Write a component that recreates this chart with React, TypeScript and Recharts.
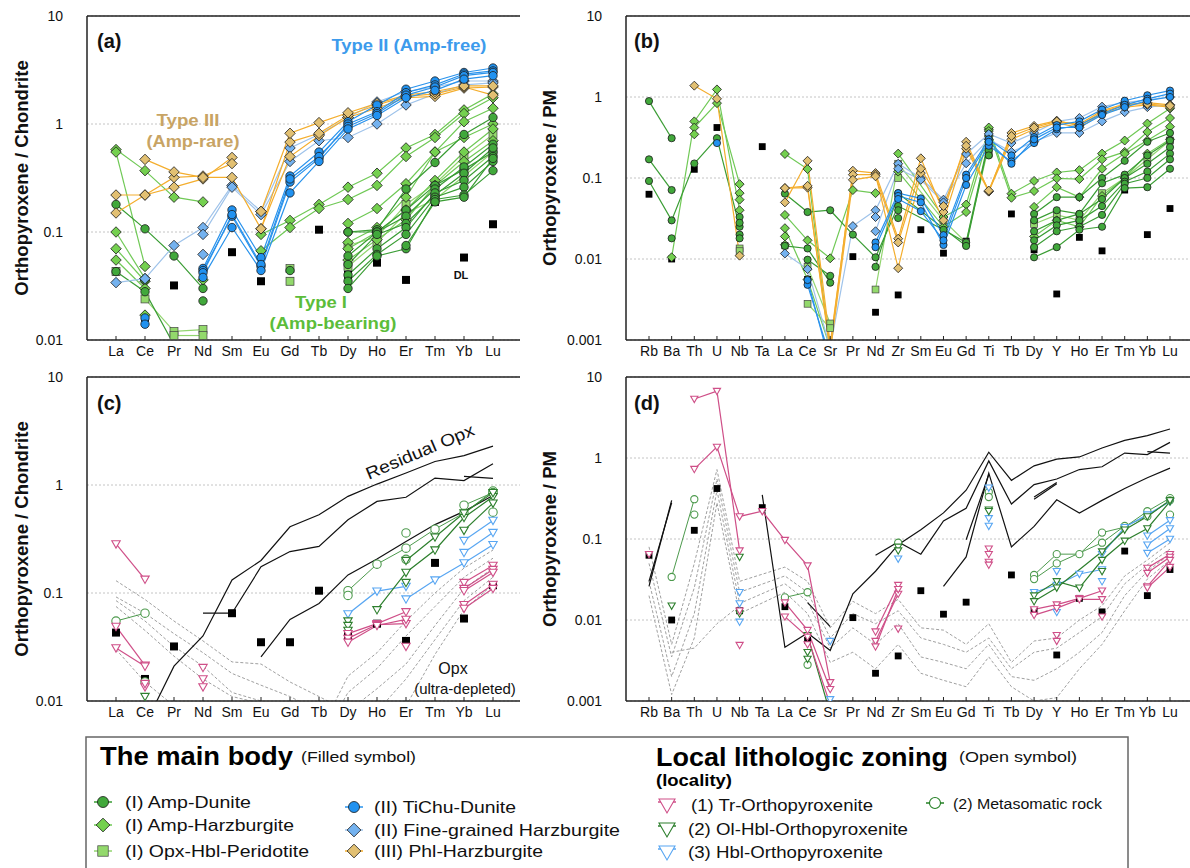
import React from 'react';
import { LineChart, Line, XAxis, YAxis, CartesianGrid, ReferenceLine } from 'recharts';

type Pts = Record<string, number>;
type Shape = 'circle' | 'diamond' | 'square' | 'tri' | 'ring' | 'dl' | 'none';

interface Style {
  shape: Shape;
  fill: string;
  line: string;
  width?: number;
  dash?: string;
}

interface Group extends Style {
  rows: Pts[];
}

const FONT = 'Liberation Sans, Arial, Helvetica, sans-serif';

// categories
const reeCats = ['La', 'Ce', 'Pr', 'Nd', 'Sm', 'Eu', 'Gd', 'Tb', 'Dy', 'Ho', 'Er', 'Tm', 'Yb', 'Lu'];
const pmCats = ['Rb', 'Ba', 'Th', 'U', 'Nb', 'Ta', 'La', 'Ce', 'Sr', 'Pr', 'Nd', 'Zr', 'Sm', 'Eu', 'Gd', 'Ti', 'Tb', 'Dy', 'Y', 'Ho', 'Er', 'Tm', 'Yb', 'Lu'];
const chondriteTicks = [0.01, 0.1, 1, 10];
const pmTicks = [0.001, 0.01, 0.1, 1, 10];

// detection limits
const dlChondrite: Pts = { La: 0.043, Ce: 0.016, Pr: 0.032, Sm: 0.065, Eu: 0.035, Gd: 0.035, Tb: 0.105, Dy: 0.04, Ho: 0.052, Er: 0.036, Tm: 0.19, Yb: 0.058, Lu: 0.118 };
const dlPM: Pts = { Rb: 0.063, Ba: 0.01, Th: 0.128, U: 0.42, Nb: 0.013, Ta: 0.244, La: 0.0146, Ce: 0.0056, Pr: 0.0107, Nd: 0.0022, Zr: 0.0036, Sm: 0.023, Eu: 0.0118, Gd: 0.0166, Tb: 0.036, Dy: 0.013, Y: 0.0037, Ho: 0.0185, Er: 0.0126, Tm: 0.071, Yb: 0.02, Lu: 0.042 };

// ---- panel (a): main body, chondrite-normalised
const aAmpDunite: Pts[] = [
  { La: 0.18, Ce: 0.107, Pr: 0.06, Nd: 0.03 },
  { La: 0.043, Ce: 0.028, Pr: 0.009 },
  { Ce: 0.036 }, { Nd: 0.023 }, { Gd: 0.044 },
  { Dy: 0.1, Ho: 0.105, Er: 0.25, Tm: 0.44, Yb: 0.8, Lu: 1.15 },
  { Dy: 0.1, Ho: 0.1, Er: 0.16, Tm: 0.27, Yb: 0.38, Lu: 0.55 },
  { Dy: 0.06, Ho: 0.1, Er: 0.14, Tm: 0.25, Yb: 0.4, Lu: 0.65 },
  { Dy: 0.05, Ho: 0.095, Er: 0.12, Tm: 0.22, Yb: 0.35, Lu: 0.6 },
  { Dy: 0.04, Ho: 0.07, Er: 0.11, Tm: 0.23, Yb: 0.3, Lu: 0.5 },
  { Dy: 0.035, Ho: 0.062, Er: 0.095, Tm: 0.21, Yb: 0.26, Lu: 0.45 },
  { Dy: 0.03, Ho: 0.06, Er: 0.07, Tm: 0.2, Yb: 0.22, Lu: 0.37 },
  { Er: 0.075, Tm: 0.19, Yb: 0.21, Lu: 0.48 },
];
const aAmpHarz: Pts[] = [
  { La: 0.58, Ce: 0.37, Pr: 0.21, Nd: 0.19 },
  { La: 0.55, Ce: 0.048 },
  { La: 0.1, Ce: 0.037 },
  { La: 0.07, Ce: 0.035 },
  { La: 0.055, Ce: 0.03 },
  { Ce: 0.017 }, { Nd: 0.036 },
  { Eu: 0.095, Gd: 0.128, Tb: 0.18, Dy: 0.26, Ho: 0.35, Er: 0.6, Tm: 0.8, Yb: 1.35, Lu: 1.9 },
  { Eu: 0.067, Gd: 0.11, Tb: 0.165, Dy: 0.2, Ho: 0.27, Er: 0.5, Tm: 0.75, Yb: 1.25, Lu: 1.75 },
  { Dy: 0.12, Ho: 0.165, Er: 0.28, Tm: 0.55, Yb: 1.05, Lu: 1.4 },
  { Dy: 0.08, Ho: 0.11, Er: 0.21, Tm: 0.55, Yb: 0.75, Lu: 1.0 },
  { Dy: 0.07, Ho: 0.1, Er: 0.16, Tm: 0.3, Yb: 0.55, Lu: 0.9 },
  { Dy: 0.055, Ho: 0.085, Er: 0.13, Tm: 0.27, Yb: 0.45, Lu: 0.7 },
];
const aOpxHbl: Pts[] = [
  { La: 0.043 },
  { Ce: 0.024, Pr: 0.012, Nd: 0.0125 },
  { Pr: 0.011, Nd: 0.011 },
  { Gd: 0.046 }, { Gd: 0.035 },
  { Dy: 0.075, Ho: 0.09, Er: 0.18, Tm: 0.28, Yb: 0.5, Lu: 0.8 },
  { Dy: 0.048, Ho: 0.08, Er: 0.15, Tm: 0.2, Yb: 0.33, Lu: 0.55 },
];
const aTiChu: Pts[] = [
  { Ce: 0.016 }, { Ce: 0.014 },
  { Nd: 0.046, Sm: 0.16, Eu: 0.058, Gd: 0.33, Tb: 0.55, Dy: 1.05, Ho: 1.5, Er: 2.1, Tm: 2.5, Yb: 3.0, Lu: 3.3 },
  { Nd: 0.044, Sm: 0.14, Eu: 0.048, Gd: 0.29, Tb: 0.48, Dy: 1.0, Ho: 1.3, Er: 1.95, Tm: 2.3, Yb: 2.9, Lu: 3.1 },
  { Nd: 0.042, Sm: 0.145, Eu: 0.05, Gd: 0.31, Tb: 0.5, Dy: 0.95, Ho: 1.25, Er: 1.85, Tm: 2.2, Yb: 2.8, Lu: 3.0 },
  { Nd: 0.038, Sm: 0.11, Eu: 0.044, Gd: 0.23, Tb: 0.45, Dy: 0.9, Ho: 1.2, Er: 1.75, Tm: 2.05, Yb: 2.6, Lu: 2.8 },
];
const aFine: Pts[] = [
  { La: 0.034, Ce: 0.037, Pr: 0.075, Nd: 0.11, Sm: 0.27, Eu: 0.155, Gd: 0.6, Tb: 0.8, Dy: 1.15, Ho: 1.6, Er: 2.0, Tm: 2.2, Yb: 2.5, Lu: 2.5 },
  { Nd: 0.095, Sm: 0.26, Eu: 0.145, Gd: 0.45, Tb: 0.7, Dy: 0.75, Ho: 1.0, Er: 1.5, Tm: 1.9, Yb: 2.3, Lu: 2.4 },
  { Nd: 0.062 },
];
const aPhl: Pts[] = [
  { La: 0.22, Ce: 0.22, Pr: 0.26, Nd: 0.31, Sm: 0.49 },
  { La: 0.15, Ce: 0.22, Pr: 0.32, Nd: 0.33, Sm: 0.43 },
  { Ce: 0.47, Pr: 0.36, Nd: 0.32, Sm: 0.32, Eu: 0.107, Gd: 0.5, Tb: 0.78, Dy: 1.15, Ho: 1.4, Er: 1.75, Tm: 1.8, Yb: 2.15, Lu: 2.2 },
  { Eu: 0.107, Gd: 0.68, Tb: 0.82, Dy: 1.2, Ho: 1.5, Er: 1.8, Tm: 1.9, Yb: 2.2, Lu: 1.85 },
  { Eu: 0.155, Gd: 0.82, Tb: 1.03, Dy: 1.27, Ho: 1.55, Er: 1.85, Tm: 2.0, Yb: 2.25, Lu: 2.25 },
];

// ---- panel (b): main body, PM-normalised
const bAmpDunite: Pts[] = [
  { Rb: 0.89, Ba: 0.31 },
  { Rb: 0.17, Ba: 0.071 },
  { Rb: 0.092, Ba: 0.03, Th: 0.151, U: 0.31, Nb: 0.025 },
  { Ba: 0.018 },
  { Nb: 0.033 }, { Nb: 0.028 }, { Nb: 0.02 }, { Nb: 0.018 },
  { La: 0.064, Ce: 0.038, Sr: 0.04, Pr: 0.02, Nd: 0.0105, Zr: 0.045, Eu: 0.023, Gd: 0.016, Ti: 0.3 },
  { La: 0.0145, Ce: 0.0135, Sr: 0.0051 },
  { Ce: 0.0098, Sr: 0.0062 },
  { Nd: 0.008, Zr: 0.065, Gd: 0.0145, Ti: 0.28 },
  { Zr: 0.032 }, { Zr: 0.04 },
  { Ti: 0.22 }, { Ti: 0.35 }, { Ti: 0.19 },
  { Dy: 0.036, Y: 0.058, Ho: 0.058, Er: 0.1, Tm: 0.163, Yb: 0.28, Lu: 0.36 },
  { Dy: 0.03, Y: 0.04, Ho: 0.036, Er: 0.086, Tm: 0.11, Yb: 0.19, Lu: 0.29 },
  { Dy: 0.022, Y: 0.03, Ho: 0.036, Er: 0.055, Tm: 0.1, Yb: 0.15, Lu: 0.24 },
  { Dy: 0.017, Y: 0.026, Ho: 0.03, Er: 0.045, Tm: 0.09, Yb: 0.12, Lu: 0.2 },
  { Dy: 0.014, Y: 0.022, Ho: 0.025, Er: 0.035, Tm: 0.085, Yb: 0.1, Lu: 0.17 },
  { Dy: 0.0105, Y: 0.014, Ho: 0.023, Er: 0.025, Tm: 0.075, Yb: 0.077, Lu: 0.13 },
];
const bAmpHarz: Pts[] = [
  { Ba: 0.0105, Th: 0.5, U: 1.24, Nb: 0.04 },
  { Th: 0.42, U: 0.84, Nb: 0.084 },
  { Th: 0.346 }, { Nb: 0.065 }, { Nb: 0.054 },
  { La: 0.198, Ce: 0.129, Sr: 0.0007 },
  { La: 0.035, Ce: 0.017, Sr: 0.0102, Pr: 0.071, Nd: 0.065 },
  { La: 0.024, Ce: 0.0056, Sr: 0.0008 },
  { La: 0.019 }, { La: 0.015 },
  { Zr: 0.2, Eu: 0.033, Gd: 0.047, Ti: 0.4 },
  { Zr: 0.12, Eu: 0.025, Gd: 0.038, Ti: 0.33 },
  { Ti: 0.42, Tb: 0.064, Dy: 0.092, Y: 0.117, Ho: 0.125, Er: 0.2, Tm: 0.29, Yb: 0.47, Lu: 0.72 },
  { Ti: 0.38, Tb: 0.057, Dy: 0.069, Y: 0.099, Ho: 0.097, Er: 0.17, Tm: 0.21, Yb: 0.37, Lu: 0.55 },
  { Dy: 0.044, Y: 0.077, Ho: 0.058, Er: 0.13, Tm: 0.2, Yb: 0.29, Lu: 0.43 },
  { Dy: 0.019, Y: 0.03, Ho: 0.025, Er: 0.06, Tm: 0.1, Yb: 0.2, Lu: 0.3 },
];
const bOpxHbl: Pts[] = [
  { Nb: 0.0135 }, { Nb: 0.0125 },
  { Ce: 0.008, Sr: 0.0016 },
  { Ce: 0.0028, Sr: 0.0014 },
  { Nd: 0.0042, Zr: 0.15, Eu: 0.03, Gd: 0.016, Ti: 0.25 },
  { Zr: 0.1 }, { Ti: 0.2 },
  { Dy: 0.027, Y: 0.035, Ho: 0.03, Er: 0.065, Tm: 0.1, Yb: 0.17, Lu: 0.29 },
];
const bTiChu: Pts[] = [
  { U: 0.27 },
  { Ce: 0.0048, Sr: 0.0006 },
  { Ce: 0.0055, Sr: 0.0005 },
  { Nd: 0.016, Zr: 0.065, Sm: 0.056, Eu: 0.0197, Gd: 0.11, Ti: 0.3, Tb: 0.19, Dy: 0.32, Y: 0.45, Ho: 0.5, Er: 0.7, Tm: 0.9, Yb: 1.05, Lu: 1.2 },
  { Nd: 0.014, Zr: 0.06, Sm: 0.05, Eu: 0.0149, Gd: 0.082, Ti: 0.25, Tb: 0.16, Dy: 0.27, Y: 0.4, Ho: 0.45, Er: 0.62, Tm: 0.8, Yb: 0.95, Lu: 1.1 },
  { Zr: 0.055, Sm: 0.039, Eu: 0.017, Gd: 0.1, Ti: 0.28, Tb: 0.15, Dy: 0.3, Y: 0.42, Ho: 0.42, Er: 0.6, Tm: 0.75, Yb: 0.9, Lu: 1.0 },
];
const bFine: Pts[] = [
  { La: 0.0117, Ce: 0.0075, Sr: 0.0008, Pr: 0.0255, Nd: 0.04, Zr: 0.15, Sm: 0.1, Eu: 0.054, Gd: 0.198, Ti: 0.35, Tb: 0.27, Dy: 0.36, Y: 0.5, Ho: 0.55, Er: 0.76, Tm: 0.85, Yb: 0.92, Lu: 1.0 },
  { Nd: 0.022, Zr: 0.13, Sm: 0.095, Eu: 0.05, Gd: 0.152, Ti: 0.3, Tb: 0.21, Dy: 0.28, Y: 0.36, Ho: 0.36, Er: 0.5, Tm: 0.65, Yb: 0.75, Lu: 0.8 },
  { Nd: 0.033 },
];
const bPhl: Pts[] = [
  { Th: 1.38, U: 0.95, Nb: 0.011 },
  { La: 0.075, Ce: 0.076, Sr: 0.0008, Pr: 0.123, Nd: 0.115, Zr: 0.0178, Sm: 0.175, Eu: 0.038, Gd: 0.28, Ti: 0.068, Tb: 0.36, Dy: 0.44, Y: 0.51, Ho: 0.44, Er: 0.65, Tm: 0.8, Yb: 0.85, Lu: 0.8 },
  { La: 0.05, Ce: 0.163, Sr: 0.0009, Pr: 0.11, Nd: 0.11, Zr: 0.0077, Sm: 0.115, Eu: 0.03, Gd: 0.23, Ti: 0.068, Tb: 0.3, Dy: 0.4, Y: 0.48, Ho: 0.42, Er: 0.62, Tm: 0.75, Yb: 0.8, Lu: 0.75 },
  { La: 0.075, Ce: 0.08, Sr: 0.0007, Pr: 0.095, Nd: 0.105, Zr: 0.016, Sm: 0.13, Eu: 0.045, Gd: 0.25, Ti: 0.07, Tb: 0.33, Dy: 0.42, Y: 0.5, Ho: 0.46, Er: 0.68, Tm: 0.82, Yb: 0.82, Lu: 0.78 },
];

// ---- panel (c): local zoning, chondrite-normalised
const cDepleted: Pts[] = [
  { La: 0.13, Ce: 0.087, Pr: 0.055, Nd: 0.036, Sm: 0.023, Eu: 0.022, Gd: 0.015, Tb: 0.011, Dy: 0.008 },
  { La: 0.092, Ce: 0.065, Pr: 0.042, Nd: 0.028, Sm: 0.018, Eu: 0.014, Gd: 0.011, Tb: 0.008 },
  { La: 0.085, Ce: 0.055, Pr: 0.032, Nd: 0.021, Sm: 0.012, Eu: 0.01, Gd: 0.008 },
  { La: 0.075, Ce: 0.045, Pr: 0.026, Nd: 0.016, Sm: 0.011, Eu: 0.0095, Gd: 0.007 },
  { La: 0.03, Ce: 0.015, Pr: 0.009 },
  { Tb: 0.005, Dy: 0.017, Ho: 0.028, Er: 0.055, Tm: 0.1, Yb: 0.17, Lu: 0.25 },
  { Tb: 0.004, Dy: 0.012, Ho: 0.02, Er: 0.04, Tm: 0.075, Yb: 0.14, Lu: 0.21 },
  { Dy: 0.008, Ho: 0.013, Er: 0.022, Tm: 0.05, Yb: 0.11, Lu: 0.17 },
  { Ho: 0.008, Er: 0.016, Tm: 0.037, Yb: 0.085, Lu: 0.14 },
  { Er: 0.009, Tm: 0.027, Yb: 0.07, Lu: 0.12 },
];
const cResidual: Pts[] = [
  { Ce: 0.006, Pr: 0.021, Nd: 0.04, Sm: 0.132, Eu: 0.2, Gd: 0.41, Tb: 0.53, Dy: 0.785, Ho: 1.02, Er: 1.29, Tm: 1.65, Yb: 1.87, Lu: 2.29 },
  { Nd: 0.065, Sm: 0.065, Eu: 0.175, Gd: 0.242, Tb: 0.27, Dy: 0.476, Ho: 0.705, Er: 0.77, Tm: 1.16, Yb: 1.1, Lu: 1.57 },
  { Yb: 1.2, Lu: 1.15 },
  { Eu: 0.0256, Gd: 0.057, Tb: 0.08, Dy: 0.147, Ho: 0.206, Er: 0.3, Tm: 0.43, Yb: 0.57, Lu: 0.8 },
];
const cTrOpx: Pts[] = [
  { La: 0.285, Ce: 0.134 },
  { La: 0.049, Ce: 0.0214 },
  { La: 0.031, Ce: 0.021 },
  { Ce: 0.0135 }, { Ce: 0.0145 },
  { Nd: 0.0204 }, { Nd: 0.016 }, { Nd: 0.0135 },
  { Dy: 0.042, Ho: 0.052, Er: 0.067 },
  { Dy: 0.038, Ho: 0.051, Er: 0.052 },
  { Dy: 0.035, Ho: 0.05, Er: 0.057 },
  { Er: 0.032 },
  { Yb: 0.125, Lu: 0.18 },
  { Yb: 0.11, Lu: 0.165 },
  { Yb: 0.105, Lu: 0.155 },
  { Yb: 0.078, Lu: 0.12 },
  { Yb: 0.072, Lu: 0.11 },
];
const cOlHbl: Pts[] = [
  { Ce: 0.011 },
  { Dy: 0.055 }, { Dy: 0.05 }, { Dy: 0.045 },
  { Ho: 0.07, Er: 0.155, Tm: 0.25, Yb: 0.5, Lu: 0.78 },
  { Er: 0.2, Tm: 0.33, Yb: 0.55, Lu: 0.85 },
  { Er: 0.125 },
  { Yb: 0.38, Lu: 0.68 },
];
const cMeta: Pts[] = [
  { La: 0.055, Ce: 0.065 },
  { Ce: 0.015 },
  { Dy: 0.105, Ho: 0.185, Er: 0.26, Tm: 0.39, Yb: 0.55, Lu: 0.88 },
  { Dy: 0.095 },
  { Er: 0.36 }, { Er: 0.205 },
  { Yb: 0.65, Lu: 0.85 },
  { Lu: 0.56 },
];
const cHbl: Pts[] = [
  { Dy: 0.064, Ho: 0.104, Er: 0.115 },
  { Er: 0.088, Tm: 0.132, Yb: 0.19, Lu: 0.28 },
  { Yb: 0.237, Lu: 0.363 },
  { Yb: 0.306, Lu: 0.47 },
];

// ---- panel (d): local zoning, PM-normalised
const dDepleted: Pts[] = [
  { Rb: 0.08, Ba: 0.005, Th: 0.05, U: 0.72, Nb: 0.03, La: 0.045, Ce: 0.03, Sr: 0.008, Pr: 0.017, Nd: 0.012, Zr: 0.018, Sm: 0.008, Eu: 0.0075, Gd: 0.005, Ti: 0.009, Tb: 0.003, Dy: 0.0055, Y: 0.006, Ho: 0.01, Er: 0.015, Tm: 0.035, Yb: 0.055, Lu: 0.09 },
  { Rb: 0.05, Ba: 0.0035, Th: 0.025, U: 0.55, Nb: 0.022, La: 0.035, Ce: 0.022, Sr: 0.006, Pr: 0.012, Nd: 0.009, Zr: 0.013, Sm: 0.006, Eu: 0.005, Gd: 0.004, Ti: 0.006, Tb: 0.0025, Dy: 0.004, Y: 0.0045, Ho: 0.007, Er: 0.011, Tm: 0.028, Yb: 0.048, Lu: 0.075 },
  { Rb: 0.03, Ba: 0.002, Th: 0.012, U: 0.4, Nb: 0.016, La: 0.028, Ce: 0.017, Sr: 0.0045, Pr: 0.008, Nd: 0.005, Zr: 0.009, Sm: 0.0035, Eu: 0.003, Gd: 0.0025, Ti: 0.005, Tb: 0.002, Dy: 0.0018, Y: 0.0025, Ho: 0.004, Er: 0.007, Tm: 0.02, Yb: 0.04, Lu: 0.065 },
  { Rb: 0.02, Ba: 0.0012, Th: 0.006, U: 0.28, Nb: 0.012, La: 0.022, Ce: 0.012, Sr: 0.003, Pr: 0.004, Nd: 0.0025, Zr: 0.005, Sm: 0.0022, Eu: 0.0018, Gd: 0.0015, Ti: 0.0035, Tb: 0.0015, Dy: 0.001, Y: 0.0011, Ho: 0.0025, Er: 0.005, Tm: 0.013, Yb: 0.032, Lu: 0.055 },
  { Ba: 0.004, Th: 0.0045, U: 0.009, Nb: 0.015 },
];
const dResidual: Pts[] = [
  { Rb: 0.026, Ba: 0.3 },
  { Rb: 0.03, Ba: 0.28 },
  { Ta: 0.35, La: 0.0046, Ce: 0.0069, Sr: 0.0042, Pr: 0.021, Nd: 0.04, Zr: 0.085, Sm: 0.13, Eu: 0.21, Gd: 0.4, Ti: 1.18, Tb: 0.53, Dy: 0.8, Y: 0.97, Ho: 1.03, Er: 1.33, Tm: 1.65, Yb: 1.89, Lu: 2.28 },
  { Ce: 0.0164, Sr: 0.0083 },
  { Nd: 0.063, Zr: 0.092, Sm: 0.065, Eu: 0.167, Gd: 0.24, Ti: 0.92, Tb: 0.27, Dy: 0.47, Y: 0.55, Ho: 0.72, Er: 0.78, Tm: 1.15, Yb: 1.1, Lu: 1.56 },
  { Yb: 1.2, Lu: 1.15 },
  { Eu: 0.026, Gd: 0.06, Ti: 0.65, Tb: 0.08, Dy: 0.143, Y: 0.305, Ho: 0.209, Er: 0.3, Tm: 0.42, Yb: 0.57, Lu: 0.75 },
  { Gd: 0.098, Ti: 0.62 },
  { Dy: 0.31, Y: 0.48 },
  { Dy: 0.33, Y: 0.5 },
];
const dTrOpx: Pts[] = [
  { Rb: 0.065 },
  { Th: 5.35, U: 6.7, Nb: 0.072 },
  { Th: 0.73, U: 1.37, Nb: 0.19, Ta: 0.22, La: 0.097, Ce: 0.047, Sr: 0.0017 },
  { Nb: 0.013 }, { Nb: 0.0049 },
  { La: 0.0164, Ce: 0.0075, Sr: 0.0014 },
  { La: 0.011, Ce: 0.0062, Sr: 0.0009 },
  { Ce: 0.005 },
  { Nd: 0.0072, Zr: 0.027 },
  { Nd: 0.0055, Zr: 0.021 },
  { Nd: 0.0047, Zr: 0.024 },
  { Zr: 0.0078 },
  { Ti: 0.076 }, { Ti: 0.065 }, { Ti: 0.052 }, { Ti: 0.048 },
  { Dy: 0.0135, Y: 0.0155, Ho: 0.0185, Er: 0.023 },
  { Dy: 0.0115, Y: 0.014, Ho: 0.018, Er: 0.018 },
  { Y: 0.0065 }, { Y: 0.0055 }, { Er: 0.011 },
  { Yb: 0.044, Lu: 0.065 },
  { Yb: 0.038, Lu: 0.06 },
  { Yb: 0.026, Lu: 0.055 },
  { Yb: 0.025, Lu: 0.045 },
];
const dOlHbl: Pts[] = [
  { Ba: 0.015 },
  { Nb: 0.06 }, { Nb: 0.012 },
  { Ce: 0.0065, Sr: 0.0007 },
  { Ce: 0.004 }, { Ce: 0.0033 },
  { Zr: 0.08 }, { Zr: 0.072 },
  { Ti: 0.23 }, { Ti: 0.22 },
  { Dy: 0.02, Y: 0.03, Ho: 0.025, Er: 0.055, Tm: 0.095, Yb: 0.135, Lu: 0.29 },
  { Dy: 0.017, Y: 0.025, Er: 0.07, Tm: 0.13, Yb: 0.19, Lu: 0.3 },
  { Er: 0.04 },
];
const dMeta: Pts[] = [
  { Ba: 0.034, Th: 0.31 },
  { Th: 0.2 },
  { La: 0.019, Ce: 0.022 },
  { Ce: 0.0028 },
  { Zr: 0.09 },
  { Ti: 0.38 }, { Ti: 0.33 },
  { Dy: 0.036, Y: 0.065, Ho: 0.065, Er: 0.12, Tm: 0.14, Yb: 0.22, Lu: 0.32 },
  { Dy: 0.032, Y: 0.05, Er: 0.09, Tm: 0.145, Yb: 0.19, Lu: 0.3 },
  { Lu: 0.2 },
];
const dHbl: Pts[] = [
  { Nb: 0.022 }, { Nb: 0.016 }, { Nb: 0.0095 },
  { Sr: 0.0055 }, { Sr: 0.00105 },
  { Zr: 0.057 },
  { Ti: 0.43 }, { Ti: 0.18 }, { Ti: 0.145 },
  { Dy: 0.022, Y: 0.027, Ho: 0.037, Er: 0.042 },
  { Y: 0.04 }, { Y: 0.0125 }, { Er: 0.03 },
  { Er: 0.065, Tm: 0.14, Yb: 0.2, Lu: 0.29 },
  { Yb: 0.11, Lu: 0.17 },
  { Yb: 0.085, Lu: 0.135 },
  { Yb: 0.067, Lu: 0.1 },
];

// styles
const sAmpDunite: Style = { shape: 'circle', fill: '#41a83b', line: '#3a9d34' };
const sAmpHarz: Style = { shape: 'diamond', fill: '#74d04f', line: '#70c956' };
const sOpxHbl: Style = { shape: 'square', fill: '#93d96c', line: '#92d56f' };
const sTiChu: Style = { shape: 'circle', fill: '#2192f0', line: '#2a93ec' };
const sFine: Style = { shape: 'diamond', fill: '#74b2ef', line: '#9fc3ea' };
const sPhl: Style = { shape: 'diamond', fill: '#e2c072', line: '#f4ae2e' };
const sTr: Style = { shape: 'tri', fill: '#fff', line: '#cf4f88' };
const sOlHbl: Style = { shape: 'tri', fill: '#fff', line: '#2d7f2d' };
const sHbl: Style = { shape: 'tri', fill: '#fff', line: '#58a6f2' };
const sMeta: Style = { shape: 'ring', fill: '#fff', line: '#4d9a4d', width: 1 };
const sDepleted: Style = { shape: 'none', fill: 'none', line: '#a0a0a0', dash: '3 2', width: 1 };
const sResidual: Style = { shape: 'none', fill: 'none', line: '#111', width: 1.2 };
const sDL: Style = { shape: 'dl', fill: '#000', line: 'none' };

const Marker = ({ shape, x, y, r, fill, stroke }: { shape: Shape; x: number; y: number; r: number; fill: string; stroke: string }) => {
  if (shape === 'circle') return <circle cx={x} cy={y} r={r} fill={fill} stroke="#1a1a1a" strokeWidth={0.8} />;
  if (shape === 'diamond') {
    const s = r * 1.25;
    return <polygon points={`${x},${y - s} ${x + s},${y} ${x},${y + s} ${x - s},${y}`} fill={fill} stroke="#1a1a1a" strokeWidth={0.8} />;
  }
  if (shape === 'square') {
    const s = r * 0.95;
    return <rect x={x - s} y={y - s} width={2 * s} height={2 * s} fill={fill} stroke="#444" strokeWidth={0.7} />;
  }
  if (shape === 'tri') {
    const s = r;
    return <polygon points={`${x - s},${y - s * 0.75} ${x + s},${y - s * 0.75} ${x},${y + s}`} fill="#fff" stroke={stroke} strokeWidth={1.1} />;
  }
  if (shape === 'ring') return <circle cx={x} cy={y} r={r} fill="#fff" stroke={stroke} strokeWidth={1.1} />;
  if (shape === 'dl') return <rect x={x - r} y={y - r} width={2 * r} height={2 * r} fill="#000" />;
  return null;
};

const makeDot = (g: Style, r: number, id: string) => (props: any) => {
  const { cx, cy, index, value } = props;
  const key = `${id}-${index}`;
  if (cx == null || cy == null || value == null || Number.isNaN(cy)) return <g key={key} />;
  return (
    <g key={key}>
      <Marker shape={g.shape} x={cx} y={cy} r={g.shape === 'dl' ? r * 0.95 : r} fill={g.fill} stroke={g.line} />
    </g>
  );
};

interface PanelProps {
  left: number;
  top: number;
  width: number;
  right: number;
  cats: string[];
  groups: Group[];
  domain: [number, number];
  ticks: number[];
  padL: number;
  padR: number;
  r: number;
}

const Panel = ({ left, top, width, right, cats, groups, domain, ticks, padL, padR, r }: PanelProps) => {
  const data = cats.map((c) => {
    const row: Record<string, string | number> = { cat: c };
    groups.forEach((g, gi) =>
      g.rows.forEach((p, si) => {
        if (p[c] != null) row[`s${gi}_${si}`] = p[c];
      }),
    );
    return row;
  });
  return (
    <div style={{ position: 'absolute', left, top }}>
      <LineChart width={width} height={370} data={data} margin={{ top: 16, right, bottom: 0, left: 0 }}>
        <CartesianGrid vertical={false} stroke="#c4c4c4" strokeDasharray="2 2" />
        <XAxis
          dataKey="cat"
          interval={0}
          padding={{ left: padL, right: padR }}
          height={30}
          axisLine={{ stroke: '#222', strokeWidth: 1.5 }}
          tickLine={{ stroke: '#222' }}
          tickSize={-4}
          tickMargin={10}
          tick={{ fontSize: 14, fill: '#111', fontFamily: FONT }}
        />
        <YAxis
          type="number"
          scale="log"
          domain={domain}
          ticks={ticks}
          allowDataOverflow
          width={86 + (left === 0 ? 1 : 0)}
          axisLine={{ stroke: '#222', strokeWidth: 1.5 }}
          tickLine={false}
          tickMargin={18}
          tickFormatter={(v: number) => String(v)}
          tick={{ fontSize: 14, fill: '#111', fontFamily: FONT }}
        />
        <ReferenceLine y={domain[1]} stroke="#222" strokeWidth={1.5} />
        {groups.flatMap((g, gi) =>
          g.rows.map((_, si) => {
            const k = `s${gi}_${si}`;
            return (
              <Line
                key={k}
                dataKey={k}
                type="linear"
                stroke={g.shape === 'dl' ? 'none' : g.line}
                strokeWidth={g.width ?? 1.2}
                strokeDasharray={g.dash}
                dot={g.shape === 'none' ? false : makeDot(g, r, k)}
                activeDot={false}
                connectNulls
                isAnimationActive={false}
              />
            );
          }),
        )}
      </LineChart>
    </div>
  );
};

const groupsA: Group[] = [
  { rows: [dlChondrite], ...sDL },
  { rows: aOpxHbl, ...sOpxHbl },
  { rows: aAmpHarz, ...sAmpHarz },
  { rows: aAmpDunite, ...sAmpDunite },
  { rows: aFine, ...sFine },
  { rows: aPhl, ...sPhl },
  { rows: aTiChu, ...sTiChu },
];
const groupsB: Group[] = [
  { rows: [dlPM], ...sDL },
  { rows: bOpxHbl, ...sOpxHbl },
  { rows: bAmpHarz, ...sAmpHarz },
  { rows: bAmpDunite, ...sAmpDunite },
  { rows: bFine, ...sFine },
  { rows: bPhl, ...sPhl },
  { rows: bTiChu, ...sTiChu },
];
const groupsC: Group[] = [
  { rows: cDepleted, ...sDepleted },
  { rows: cResidual, ...sResidual },
  { rows: [dlChondrite], ...sDL },
  { rows: cMeta, ...sMeta },
  { rows: cHbl, ...sHbl },
  { rows: cOlHbl, ...sOlHbl },
  { rows: cTrOpx, ...sTr },
];
const groupsD: Group[] = [
  { rows: dDepleted, ...sDepleted },
  { rows: dResidual, ...sResidual },
  { rows: [dlPM], ...sDL },
  { rows: dMeta, ...sMeta },
  { rows: dHbl, ...sHbl },
  { rows: dOlHbl, ...sOlHbl },
  { rows: dTrOpx, ...sTr },
];

const legendItems = [
  { mx: 103, tx: 125, y: 802, label: '(I) Amp-Dunite', w: 126, st: sAmpDunite },
  { mx: 103, tx: 125, y: 825, label: '(I) Amp-Harzburgite', w: 169, st: sAmpHarz },
  { mx: 103, tx: 125, y: 851, label: '(I) Opx-Hbl-Peridotite', w: 184, st: sOpxHbl },
  { mx: 354, tx: 374, y: 807, label: '(II) TiChu-Dunite', w: 142, st: sTiChu },
  { mx: 354, tx: 374, y: 830, label: '(II) Fine-grained Harzburgite', w: 246, st: sFine },
  { mx: 354, tx: 374, y: 851, label: '(III) Phl-Harzburgite', w: 169, st: sPhl },
  { mx: 667, tx: 691, y: 805, label: '(1) Tr-Orthopyroxenite', w: 182, st: sTr },
  { mx: 667, tx: 688, y: 829, label: '(2) Ol-Hbl-Orthopyroxenite', w: 220, st: sOlHbl },
  { mx: 667, tx: 688, y: 852, label: '(3) Hbl-Orthopyroxenite', w: 195, st: sHbl },
  { mx: 935, tx: 953, y: 803, label: '(2) Metasomatic rock', w: 149, st: { ...sMeta, line: '#237f23' }, fs: 14 },
];

const axisTitles = [
  { x: 21, y: 178, t: 'Orthopyroxene / Chondrite' },
  { x: 549, y: 178, t: 'Orthopyroxene / PM' },
  { x: 21, y: 539, t: 'Orthopyroxene / Chondrite' },
  { x: 549, y: 539, t: 'Orthopyroxene / PM' },
];

const panelTags = [
  { x: 97, y: 48, t: '(a)' },
  { x: 634, y: 48, t: '(b)' },
  { x: 97, y: 410, t: '(c)' },
  { x: 634, y: 410, t: '(d)' },
];

const App = () => (
  <div style={{ position: 'absolute', left: 0, top: 0, width: 1190, height: 868, background: '#fff', fontFamily: FONT, overflow: 'hidden' }}>
    <Panel left={0} top={0} width={525} right={5} cats={reeCats} groups={groupsA} domain={[0.01, 10]} ticks={chondriteTicks} padL={29} padR={27} r={4.2} />
    <Panel left={540} top={0} width={650} right={0} cats={pmCats} groups={groupsB} domain={[0.001, 10]} ticks={pmTicks} padL={23} padR={20} r={3.6} />
    <Panel left={0} top={361} width={525} right={5} cats={reeCats} groups={groupsC} domain={[0.01, 10]} ticks={chondriteTicks} padL={29} padR={27} r={4.2} />
    <Panel left={540} top={361} width={650} right={0} cats={pmCats} groups={groupsD} domain={[0.001, 10]} ticks={pmTicks} padL={23} padR={20} r={3.6} />

    <svg width={1190} height={868} style={{ position: 'absolute', left: 0, top: 0, pointerEvents: 'none' }} fontFamily={FONT}>
      {axisTitles.map((a, i) => (
        <text key={i} transform={`translate(${a.x},${a.y}) rotate(-90)`} textAnchor="middle" dominantBaseline="central" fontSize={18.5} fontWeight="bold" fill="#111">
          {a.t}
        </text>
      ))}
      {panelTags.map((p) => (
        <text key={p.t} x={p.x} y={p.y} fontSize={20} fontWeight="bold" fill="#111">
          {p.t}
        </text>
      ))}

      <text x={409} y={51} textAnchor="middle" fontSize={17} fontWeight="bold" fill="#3d9bec" textLength={155} lengthAdjust="spacingAndGlyphs">Type II (Amp-free)</text>
      <text x={188} y={126} textAnchor="middle" fontSize={17} fontWeight="bold" fill="#c8a464" textLength={63} lengthAdjust="spacingAndGlyphs">Type III</text>
      <text x={193} y={147} textAnchor="middle" fontSize={17} fontWeight="bold" fill="#c8a464" textLength={93} lengthAdjust="spacingAndGlyphs">(Amp-rare)</text>
      <text x={321} y={308} textAnchor="middle" fontSize={17} fontWeight="bold" fill="#5cbd3a" textLength={52} lengthAdjust="spacingAndGlyphs">Type I</text>
      <text x={333} y={329} textAnchor="middle" fontSize={17} fontWeight="bold" fill="#5cbd3a" textLength={127} lengthAdjust="spacingAndGlyphs">(Amp-bearing)</text>
      <text x={461} y={279} textAnchor="middle" fontSize={11} fontWeight="bold" fill="#111">DL</text>

      <text transform="translate(420,452) rotate(-23)" textAnchor="middle" dominantBaseline="central" fontSize={17} fill="#111" textLength={116} lengthAdjust="spacingAndGlyphs">Residual Opx</text>
      <text x={453} y={674} textAnchor="middle" fontSize={16} fill="#111">Opx</text>
      <text x={465} y={694} textAnchor="middle" fontSize={15} fill="#111">(ultra-depleted)</text>

      <rect x={86} y={737} width={1042} height={160} fill="none" stroke="#666" strokeWidth={1.5} />
      <text x={100} y={765} fontSize={25} fontWeight="bold" fill="#000" textLength={193} lengthAdjust="spacingAndGlyphs">The main body</text>
      <text x={301} y={762} fontSize={14} fill="#111" textLength={115} lengthAdjust="spacingAndGlyphs">(Filled symbol)</text>
      <text x={656} y={766} fontSize={25} fontWeight="bold" fill="#000" textLength={292} lengthAdjust="spacingAndGlyphs">Local lithologic zoning</text>
      <text x={959} y={762} fontSize={14} fill="#111" textLength={118} lengthAdjust="spacingAndGlyphs">(Open symbol)</text>
      <text x={656} y={786} fontSize={16} fontWeight="bold" fill="#000" textLength={76} lengthAdjust="spacingAndGlyphs">(locality)</text>
      {legendItems.map((it) => (
        <g key={it.label}>
          <line x1={it.mx - 9} x2={it.mx + 9} y1={it.st.shape === 'tri' ? it.y - 3 : it.y} y2={it.st.shape === 'tri' ? it.y - 3 : it.y} stroke={it.st.line} strokeWidth={1.5} />
          <Marker shape={it.st.shape} x={it.mx} y={it.y} r={it.st.shape === 'tri' ? 8 : 5.5} fill={it.st.fill} stroke={it.st.line} />
          <text x={it.tx} y={it.y + 6} fontSize={it.fs ?? 17} fill="#111" textLength={it.w} lengthAdjust="spacingAndGlyphs">
            {it.label}
          </text>
        </g>
      ))}
    </svg>
  </div>
);

export default App;
